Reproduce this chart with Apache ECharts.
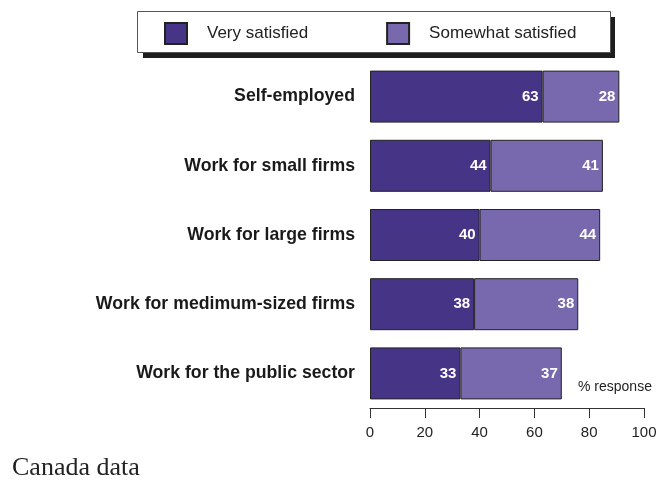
<!DOCTYPE html>
<html>
<head>
<meta charset="utf-8">
<script src="https://cdn.jsdelivr.net/npm/echarts@6/dist/echarts.min.js"></script>
<style>
  html, body { margin: 0; padding: 0; background: #fff; }
  #chart { width: 666px; height: 482px; }
</style>
</head>
<body>
<div id="chart"></div>
<script>
// Job satisfaction by type of employment (% response)
const categories = [
  'Self-employed',
  'Work for small firms',
  'Work for large firms',
  'Work for medimum-sized firms',
  'Work for the public sector'
];
const verySatisfied = [63, 44, 40, 38, 33];
const somewhatSatisfied = [28, 41, 44, 38, 37];
const xTicks = [0, 20, 40, 60, 80, 100];

const SANS = 'Liberation Sans, Arial, sans-serif';

const chart = echarts.init(document.getElementById('chart'));

const labelStyle = {
  show: true,
  position: 'insideRight',
  distance: 4,
  color: '#ffffff',
  fontFamily: SANS,
  fontWeight: 'bold',
  fontSize: 15
};

chart.setOption({
  animation: false,
  grid: { left: 370, right: 22, top: 62, bottom: 74 },
  legend: {
    left: 164,
    top: 22,
    padding: 0,
    itemWidth: 22,
    itemHeight: 21,
    itemGap: 78,
    icon: 'rect',
    z: 10,
    textStyle: {
      fontFamily: SANS,
      fontSize: 17,
      color: '#222',
      padding: [0, 0, 0, 15]
    },
    data: ['Very satisfied', 'Somewhat satisfied']
  },
  xAxis: {
    type: 'value',
    min: 0,
    max: 100,
    interval: 20,
    axisLine: { show: true, lineStyle: { color: '#333', width: 1 } },
    axisTick: { show: true, inside: false, length: 10, lineStyle: { color: '#333' } },
    splitLine: { show: false },
    axisLabel: {
      margin: 17,
      fontFamily: SANS,
      fontSize: 15,
      color: '#222',
      formatter: v => xTicks.includes(v) ? String(v) : ''
    }
  },
  yAxis: {
    type: 'category',
    inverse: true,
    data: categories,
    axisLine: { show: false },
    axisTick: { show: false },
    axisLabel: {
      margin: 15,
      fontFamily: SANS,
      fontWeight: 'bold',
      fontSize: 17.7,
      color: '#1a1a1a'
    }
  },
  series: [
    {
      name: 'Very satisfied',
      type: 'bar',
      stack: 'total',
      barWidth: 52,
      data: verySatisfied,
      itemStyle: { color: '#463586', borderColor: '#222', borderWidth: 1 },
      label: labelStyle
    },
    {
      name: 'Somewhat satisfied',
      type: 'bar',
      stack: 'total',
      barWidth: 52,
      data: somewhatSatisfied,
      itemStyle: { color: '#7868ae', borderColor: '#222', borderWidth: 1 },
      label: labelStyle
    }
  ],
  graphic: [
    // legend frame with drop shadow
    {
      type: 'rect',
      z: 1,
      shape: { x: 143, y: 17, width: 472, height: 41 },
      style: { fill: '#1e1e1e' }
    },
    {
      type: 'rect',
      z: 2,
      shape: { x: 137.5, y: 11.5, width: 473, height: 41 },
      style: { fill: '#ffffff', stroke: '#555', lineWidth: 1 }
    },
    {
      type: 'text',
      left: 578,
      top: 380,
      style: {
        text: '% response',
        fontFamily: SANS,
        fontSize: 14,
        fill: '#222'
      }
    },
    {
      type: 'text',
      x: 12,
      y: 468,
      style: {
        text: 'Canada data',
        fontFamily: 'Liberation Serif, Times New Roman, serif',
        fontSize: 26,
        fill: '#222',
        verticalAlign: 'middle'
      }
    }
  ]
});
</script>
</body>
</html>
